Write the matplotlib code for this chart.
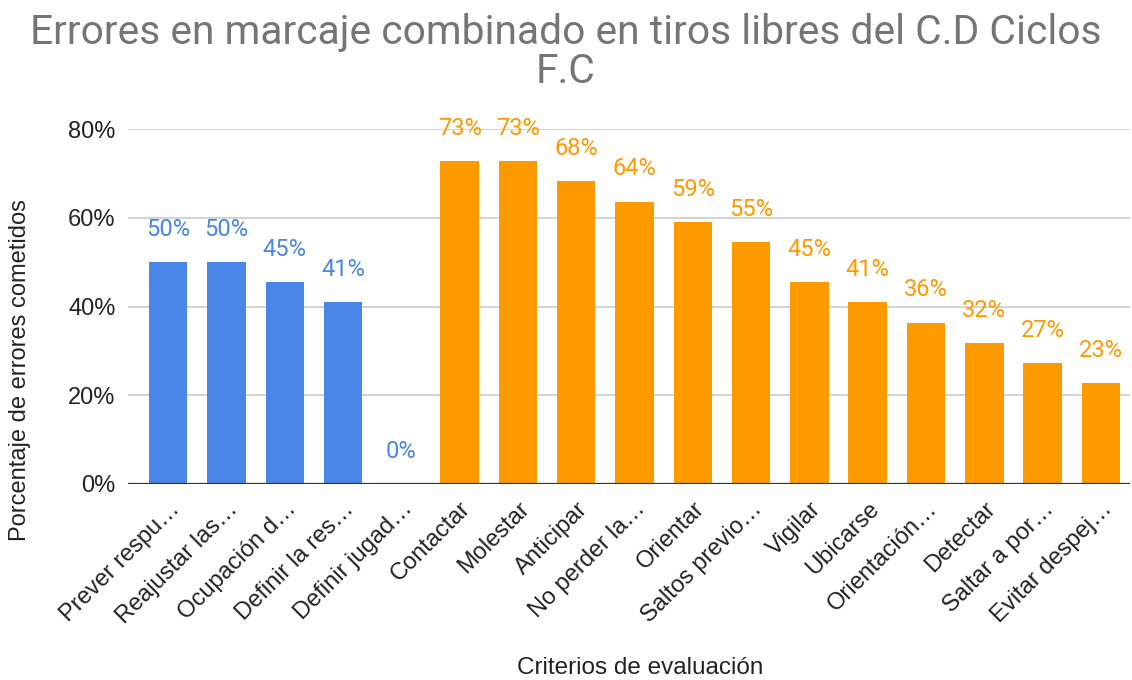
import matplotlib.pyplot as plt
from matplotlib.ticker import PercentFormatter

# data
labels = ['Prever respu…', 'Reajustar las…', 'Ocupación d…', 'Definir la res…',
          'Definir jugad…', 'Contactar', 'Molestar', 'Anticipar', 'No perder la…',
          'Orientar', 'Saltos previo…', 'Vigilar', 'Ubicarse', 'Orientación…',
          'Detectar', 'Saltar a por…', 'Evitar despej…']
values = [50.0, 50.0, 45.45, 40.91, 0.0, 72.73, 72.73, 68.18, 63.64,
          59.09, 54.55, 45.45, 40.91, 36.36, 31.82, 27.27, 22.73]
group = ['a'] * 5 + ['b'] * 12

blue = '#4a86e8'
orange = '#ff9900'
colors = [blue if g == 'a' else orange for g in group]

fig = plt.figure(figsize=(11.32, 6.8), dpi=100)
ax = fig.add_axes([128 / 1132, 1 - 484 / 680, 1002 / 1132, 355 / 680])

x = range(len(labels))
ax.bar(x, values, width=0.66, color=colors, zorder=2)

for i, v in enumerate(values):
    ax.text(i, v + 5.9, '%d%%' % round(v), ha='center', va='baseline',
            color=colors[i], fontsize=17, family='Roboto', clip_on=False)

ax.set_xlim(-0.69, 16.5)
ax.set_ylim(0, 80)
ax.set_yticks([0, 20, 40, 60, 80])
ax.yaxis.set_major_formatter(PercentFormatter(decimals=0))
ax.grid(axis='y', color='#cccccc', linewidth=1.2, zorder=0)
ax.axhline(0, color='#333333', linewidth=1.6, zorder=3)

for s in ax.spines.values():
    s.set_visible(False)
ax.tick_params(length=0)
ax.tick_params(axis='y', pad=9, labelsize=17, labelcolor='#222222')
ax.set_xticks(list(x))
ax.set_xticklabels(labels, rotation=45, ha='right', rotation_mode='anchor',
                   fontsize=17, family='Liberation Sans', color='#222222')
ax.tick_params(axis='x', pad=10)
for t in ax.get_yticklabels():
    t.set_family('Liberation Sans')

fig.text(0.5, 1 - 52 / 680,
         'Errores en marcaje combinado en tiros libres del C.D Ciclos\nF.C',
         ha='center', va='center', fontsize=29.3, color='#757575',
         family='Roboto', linespacing=1.0)
fig.text(20 / 1132, 1 - 370 / 680, 'Porcentaje de errores cometidos',
         rotation=90, ha='center', va='center', fontsize=17,
         family='Liberation Sans', color='#222222')
fig.text(640 / 1132, 1 - 668 / 680, 'Criterios de evaluación',
         ha='center', va='center', fontsize=17.5,
         family='Liberation Sans', color='#222222')

plt.savefig('out.png', dpi=100)
